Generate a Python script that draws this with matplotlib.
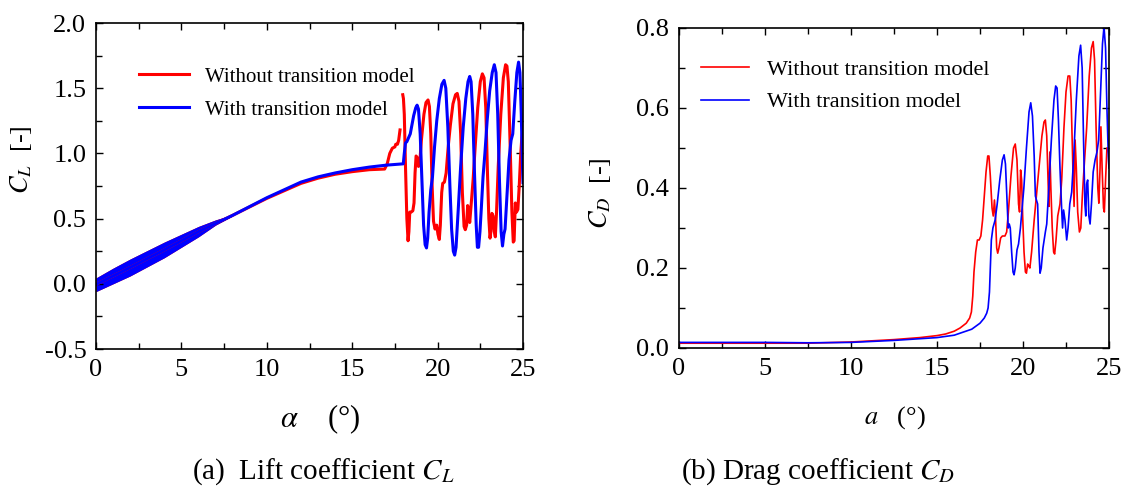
import numpy as np
import matplotlib
matplotlib.use("Agg")
import matplotlib.pyplot as plt
from matplotlib.ticker import MultipleLocator, FormatStrFormatter

plt.rcParams['font.family'] = ['Liberation Serif', 'DejaVu Serif']
plt.rcParams['mathtext.fontset'] = 'stix'
plt.rcParams['axes.unicode_minus'] = False

RED = '#ff0000'
BLUE = '#0000ff'

# ---- lift coefficient: oscillation band at low angle (both runs overlap) ----
band_alpha = [0, 1, 2, 3, 4, 5, 6, 7, 8]
band_upper = [0.045, 0.12, 0.19, 0.255, 0.32, 0.38, 0.44, 0.49, 0.53]
band_lower = [-0.06, 0.0, 0.06, 0.13, 0.20, 0.28, 0.36, 0.45, 0.52]

# ---- lift coefficient, without transition model (attached part) ----
cl_red_alpha_a = [0, 2, 4, 6, 8, 10, 12, 13, 14, 15, 16, 16.9, 17.05, 17.2, 17.35,
                  17.5, 17.55, 17.65, 17.72, 17.8]
cl_red_a = [-0.005, 0.125, 0.26, 0.40, 0.525, 0.655, 0.77, 0.81, 0.84, 0.86, 0.875,
            0.88, 0.92, 1.0, 1.04, 1.05, 1.07, 1.07, 1.10, 1.18]

# ---- lift coefficient, without transition model (stalled part) ----
cl_red_alpha_b = [17.96, 18.0, 18.05, 18.12, 18.2, 18.27, 18.32, 18.37, 18.45, 18.55,
                  18.62, 18.68, 18.74, 18.8, 18.88, 18.95, 19.05, 19.2, 19.32, 19.44,
                  19.52, 19.6, 19.68, 19.76, 19.85, 19.95, 20.02, 20.1, 20.16, 20.24,
                  20.3, 20.4, 20.5, 20.62, 20.75, 20.9, 21.05, 21.15, 21.25, 21.35,
                  21.45, 21.55, 21.62, 21.7, 21.76, 21.82, 21.88, 21.96, 22.08, 22.2,
                  22.35, 22.5, 22.62, 22.72, 22.82, 22.92, 23.0, 23.07, 23.12, 23.18,
                  23.25, 23.32, 23.38, 23.45, 23.55, 23.7, 23.85, 23.98, 24.06, 24.14,
                  24.25, 24.35, 24.43, 24.48, 24.55, 24.62, 24.7, 24.78, 24.86, 24.93,
                  25.0]
cl_red_b = [1.45, 1.42, 1.30, 0.90, 0.50, 0.33, 0.40, 0.55, 0.55, 0.56,
            0.62, 0.85, 0.98, 0.97, 0.90, 0.92, 1.10, 1.30, 1.39, 1.41,
            1.36, 1.15, 0.75, 0.48, 0.42, 0.45, 0.38, 0.34, 0.45, 0.70,
            0.77, 0.78, 0.85, 1.05, 1.22, 1.38, 1.45, 1.46, 1.40, 1.15,
            0.70, 0.44, 0.415, 0.45, 0.60, 0.55, 0.47, 0.60, 0.80, 1.05,
            1.35, 1.55, 1.61, 1.58, 1.35, 0.85, 0.50, 0.35, 0.40, 0.54,
            0.52, 0.40, 0.36, 0.55, 0.90, 1.30, 1.58, 1.68, 1.67, 1.55,
            1.05, 0.55, 0.32, 0.33, 0.62, 0.55, 0.57, 0.75, 0.98, 1.12,
            1.20]

# ---- lift coefficient, with transition model ----
cl_blue_alpha = [0, 2, 4, 6, 8, 10, 12, 13, 14, 15, 16, 17, 17.99,
                 18.05, 18.12, 18.2, 18.3, 18.4, 18.5, 18.6, 18.72, 18.8, 18.88,
                 18.98, 19.08, 19.18, 19.27, 19.35, 19.42, 19.5, 19.6, 19.7, 19.82,
                 19.95, 20.1, 20.25, 20.38, 20.48, 20.6, 20.72, 20.82, 20.92, 21.0,
                 21.08, 21.2, 21.35, 21.5, 21.65, 21.78, 21.88, 21.96, 22.06, 22.16,
                 22.26, 22.33, 22.4, 22.48, 22.56, 22.66, 22.77, 22.9, 23.05, 23.2,
                 23.32, 23.42, 23.52, 23.62, 23.72, 23.8, 23.88, 23.95, 24.05, 24.18,
                 24.3, 24.4, 24.52, 24.64, 24.74, 24.82, 24.9, 24.95, 25.0]
cl_blue = [-0.005, 0.125, 0.26, 0.40, 0.525, 0.66, 0.78, 0.82, 0.85, 0.875, 0.895, 0.91, 0.92,
           1.0, 1.08, 1.09, 1.12, 1.15, 1.22, 1.29, 1.35, 1.37, 1.34,
           1.15, 0.80, 0.45, 0.30, 0.275, 0.35, 0.55, 0.72, 0.82, 1.05,
           1.25, 1.42, 1.53, 1.56, 1.50, 1.20, 0.75, 0.42, 0.25, 0.22,
           0.28, 0.55, 0.90, 1.20, 1.42, 1.55, 1.59, 1.55, 1.30, 0.85,
           0.45, 0.28, 0.28, 0.40, 0.58, 0.82, 1.00, 1.25, 1.48, 1.62,
           1.68, 1.62, 1.30, 0.80, 0.40, 0.29, 0.38, 0.42, 0.65, 0.95,
           1.10, 1.15, 1.40, 1.62, 1.70, 1.62, 1.30, 1.00, 0.775]

# ---- drag coefficient, without transition model ----
cd_red_alpha = [0, 5, 7.5, 10, 12.5, 14, 15, 15.5, 16, 16.34, 16.7, 16.9, 17.0, 17.08,
                17.15, 17.25, 17.35, 17.45, 17.55, 17.65, 17.75, 17.85, 17.95, 18.02,
                18.1, 18.2, 18.27, 18.34, 18.4, 18.47, 18.53, 18.6, 18.7, 18.8,
                18.95, 19.05, 19.15, 19.3, 19.45, 19.55, 19.65, 19.74, 19.8, 19.86,
                19.92, 19.98, 20.06, 20.14, 20.2, 20.27, 20.33, 20.4, 20.5, 20.65,
                20.8, 20.95, 21.1, 21.22, 21.3, 21.38, 21.47, 21.51, 21.56, 21.62,
                21.7, 21.78, 21.84, 21.92, 22.02, 22.15, 22.25, 22.38, 22.5, 22.62,
                22.72, 22.8, 22.9, 22.97, 23.03, 23.1, 23.18, 23.28, 23.36, 23.45,
                23.55, 23.7, 23.85, 23.98, 24.08, 24.16, 24.25, 24.35, 24.41, 24.48,
                24.53, 24.6, 24.68, 24.73, 24.8, 24.88, 24.95, 25.0]
cd_red = [0.012, 0.012, 0.012, 0.015, 0.021, 0.026, 0.031, 0.035, 0.042, 0.05, 0.062, 0.075, 0.09, 0.13,
          0.19, 0.24, 0.27, 0.27, 0.28, 0.32, 0.38, 0.44, 0.48, 0.48,
          0.43, 0.35, 0.33, 0.37, 0.33, 0.25, 0.237, 0.25, 0.275, 0.28,
          0.28, 0.29, 0.34, 0.43, 0.50, 0.51, 0.47, 0.36, 0.34, 0.445,
          0.42, 0.33, 0.24, 0.19, 0.187, 0.21, 0.205, 0.20, 0.24, 0.32,
          0.39, 0.46, 0.53, 0.565, 0.57, 0.53, 0.40, 0.354, 0.49, 0.40,
          0.30, 0.24, 0.235, 0.27, 0.33, 0.36, 0.42, 0.55, 0.64, 0.68,
          0.68, 0.62, 0.45, 0.354, 0.52, 0.45, 0.34, 0.29, 0.30, 0.38,
          0.45, 0.55, 0.68, 0.75, 0.766, 0.72, 0.55, 0.40, 0.362, 0.45,
          0.553, 0.45, 0.35, 0.34, 0.42, 0.50, 0.50, 0.48]

# ---- drag coefficient, with transition model ----
cd_blue_alpha = [0, 5, 7.5, 10, 12.5, 15, 16, 17.02, 17.5, 17.75, 17.89, 17.97, 18.05,
                 18.1, 18.16, 18.25, 18.38, 18.5, 18.65, 18.8, 18.9, 18.98, 19.06,
                 19.14, 19.2, 19.26, 19.34, 19.42, 19.48, 19.55, 19.65, 19.74, 19.85,
                 19.95, 20.05, 20.2, 20.35, 20.45, 20.55, 20.65, 20.72, 20.78, 20.85,
                 20.93, 20.99, 21.06, 21.16, 21.3, 21.38, 21.5, 21.65, 21.8, 21.9,
                 21.98, 22.06, 22.15, 22.25, 22.3, 22.36, 22.44, 22.54, 22.62, 22.72,
                 22.83, 22.95, 23.1, 23.25, 23.35, 23.44, 23.52, 23.6, 23.65, 23.7,
                 23.76, 23.83, 23.9, 23.98, 24.08, 24.19, 24.3, 24.4, 24.52, 24.62,
                 24.71, 24.8, 24.88, 24.96, 25.0]
cd_blue = [0.014, 0.014, 0.013, 0.014, 0.019, 0.026, 0.032, 0.047, 0.062, 0.075, 0.087, 0.10, 0.14,
           0.20, 0.27, 0.30, 0.32, 0.36, 0.42, 0.47, 0.483, 0.46, 0.38,
           0.30, 0.31, 0.30, 0.24, 0.19, 0.183, 0.20, 0.245, 0.26, 0.30,
           0.35, 0.40, 0.50, 0.59, 0.613, 0.58, 0.48, 0.38, 0.37, 0.36,
           0.24, 0.187, 0.20, 0.25, 0.29, 0.31, 0.40, 0.52, 0.62, 0.655,
           0.65, 0.57, 0.45, 0.345, 0.30, 0.345, 0.32, 0.27, 0.30, 0.36,
           0.39, 0.48, 0.62, 0.73, 0.757, 0.70, 0.52, 0.36, 0.33, 0.41,
           0.42, 0.33, 0.31, 0.36, 0.44, 0.47, 0.49, 0.52, 0.65, 0.76,
           0.803, 0.75, 0.60, 0.48, 0.45]


def style_axes(ax, fs):
    ax.tick_params(which='both', direction='in', top=True, right=True,
                   labelsize=fs, width=1.0, pad=7)
    ax.tick_params(which='major', length=5)
    ax.tick_params(which='minor', length=4)
    ax.xaxis.set_major_locator(MultipleLocator(5))
    ax.xaxis.set_minor_locator(MultipleLocator(2.5))
    for sp in ax.spines.values():
        sp.set_linewidth(1.2)


fig = plt.figure(figsize=(11.25, 4.88), dpi=100)

# (a) lift coefficient
ax1 = fig.add_axes([96 / 1125, 1 - 349 / 488, 427 / 1125, 326 / 488])
ax1.fill_between(band_alpha, band_lower, band_upper, color=RED, lw=0)
ax1.plot(cl_red_alpha_a, cl_red_a, color=RED, lw=2.2, label='Without transition model')
ax1.plot(cl_red_alpha_b, cl_red_b, color=RED, lw=2.2)
ax1.fill_between(band_alpha, band_lower, band_upper, color=BLUE, lw=0)
ax1.plot(cl_blue_alpha, cl_blue, color=BLUE, lw=2.2, label='With transition model')
ax1.set_xlim(0, 25)
ax1.set_ylim(-0.5, 2.0)
ax1.yaxis.set_major_locator(MultipleLocator(0.5))
ax1.yaxis.set_minor_locator(MultipleLocator(0.25))
ax1.yaxis.set_major_formatter(FormatStrFormatter('%.1f'))
style_axes(ax1, 19)
ax1.set_xlabel(r'$\alpha$    (°)', fontsize=22)
ax1.xaxis.set_label_coords(0.525, -0.163)
ax1.set_ylabel(r'$C_L$  [-]', fontsize=19)
ax1.yaxis.set_label_coords(-0.145, 0.58)
ax1.legend(loc='upper left', bbox_to_anchor=(0.10, 0.865), frameon=False,
           fontsize=15, handlelength=2.4, handletextpad=0.8, labelspacing=0.65,
           borderpad=0, borderaxespad=0)

# (b) drag coefficient
ax2 = fig.add_axes([679 / 1125, 1 - 348 / 488, 430 / 1125, 320 / 488])
ax2.plot(cd_red_alpha, cd_red, color=RED, lw=1.2, label='Without transition model')
ax2.plot(cd_blue_alpha, cd_blue, color=BLUE, lw=1.2, label='With transition model')
ax2.set_xlim(0, 25)
ax2.set_ylim(0, 0.8)
ax2.yaxis.set_major_locator(MultipleLocator(0.2))
ax2.yaxis.set_minor_locator(MultipleLocator(0.1))
ax2.yaxis.set_major_formatter(FormatStrFormatter('%.1f'))
style_axes(ax2, 19)
ax2.set_xlabel(r'$a$   (°)', fontsize=19)
ax2.xaxis.set_label_coords(0.503, -0.175)
ax2.set_ylabel(r'$C_D$  [-]', fontsize=19)
ax2.yaxis.set_label_coords(-0.153, 0.484)
ax2.legend(loc='upper left', bbox_to_anchor=(0.05, 0.903), frameon=False,
           fontsize=16, handlelength=2.2, handletextpad=0.8, labelspacing=0.55,
           borderpad=0, borderaxespad=0)

fig.text(323 / 1125, 9 / 488, r'(a)  Lift coefficient $C_L$', fontsize=21,
         ha='center', va='baseline')
fig.text(818 / 1125, 9 / 488, r'(b) Drag coefficient $C_D$', fontsize=21,
         ha='center', va='baseline')

fig.savefig('out.png', dpi=100)
